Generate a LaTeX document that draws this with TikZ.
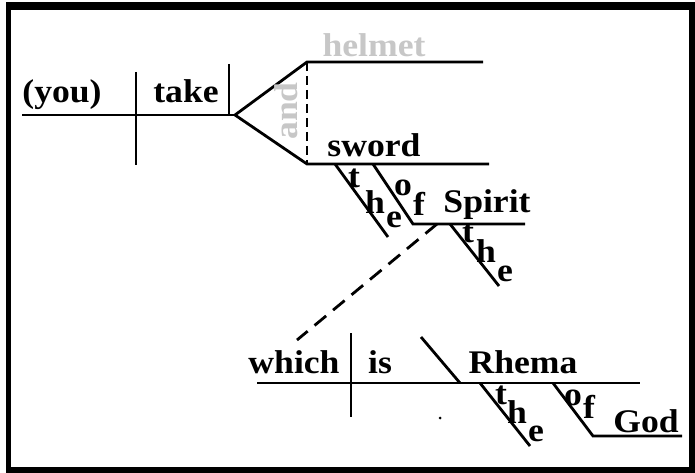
\documentclass[tikz,border=0pt]{standalone}
\usepackage{fontspec}
\setmainfont{Liberation Serif}[FakeStretch=1.08]
\definecolor{lightword}{gray}{0.78}
\begin{document}
\begin{tikzpicture}[x=1pt,y=-1pt,line width=2.8pt,
  word/.style={anchor=base,inner sep=0pt,font=\fontsize{33}{36}\selectfont\bfseries},
  faint/.style={word,text=lightword},
  dashA/.style={dash pattern=on 9pt off 5pt},
  dashB/.style={dash pattern=on 15pt off 9pt}]
\useasboundingbox (0,0) rectangle (695,473);
% frame
\fill[black] (6,2) rectangle (695,473);
\fill[white] (11,10) rectangle (689,467);
% coordinates
\coordinate (base1L) at (22,115);
\coordinate (fork) at (235,115);
\coordinate (sv1t) at (136,72);
\coordinate (sv1b) at (136,165);
\coordinate (vo1t) at (229,64);
\coordinate (vo1b) at (229,115);
\coordinate (helmL) at (307,62);
\coordinate (helmR) at (483,62);
\coordinate (swordL) at (307,164);
\coordinate (swordR) at (489,164);
\coordinate (the1a) at (335,164);
\coordinate (the1b) at (388,237);
\coordinate (of1a) at (373,164);
\coordinate (of1b) at (413,224);
\coordinate (spiritR) at (525,224);
\coordinate (the2a) at (450,224);
\coordinate (the2b) at (499,286);
\coordinate (relA) at (437,224);
\coordinate (relB) at (297,340);
\coordinate (base2L) at (257,383);
\coordinate (base2R) at (640,383);
\coordinate (sv2t) at (351,333);
\coordinate (sv2b) at (351,417);
\coordinate (pnA) at (421,337);
\coordinate (pnB) at (460,383);
\coordinate (the3a) at (480,383);
\coordinate (the3b) at (530,446);
\coordinate (of2a) at (553,383);
\coordinate (of2b) at (593,436);
\coordinate (godR) at (682,436);
% lines
\draw (base1L) -- (fork);
\draw (sv1t) -- (sv1b);
\draw (vo1t) -- (vo1b);
\draw (fork) -- (helmL) -- (helmR);
\draw (fork) -- (swordL) -- (swordR);
\draw[dashA] (helmL) -- (swordL);
\draw (the1a) -- (the1b);
\draw (of1a) -- (of1b) -- (spiritR);
\draw (the2a) -- (the2b);
\draw[dashB] (relA) -- (relB);
\draw (base2L) -- (base2R);
\draw (sv2t) -- (sv2b);
\draw (pnA) -- (pnB);
\draw (the3a) -- (the3b);
\draw (of2a) -- (of2b) -- (godR);
\fill (440,418) circle (1.5pt);
% words
\node[word] (you) at (62,103) {(you)};
\node[word] (take) at (186,103) {take};
\node[faint] (helmet) at (374,57) {helmet};
\node[faint,rotate=90] (and) at (297,111) {and};
\node[word] (sword) at (374,157) {sword};
\node[word] (t1) at (354,187) {t};
\node[word] (h1) at (375,213) {h};
\node[word] (e1) at (394,227) {e};
\node[word] (o1) at (403,195) {o};
\node[word] (f1) at (419,215) {f};
\node[word] (spirit) at (487,212) {Spirit};
\node[word] (t2) at (468,242) {t};
\node[word] (h2) at (486,262) {h};
\node[word] (e2) at (505,281) {e};
\node[word] (which) at (294,373) {which};
\node[word] (is) at (380,373) {is};
\node[word] (rhema) at (523,373) {Rhema};
\node[word] (t3) at (501,404) {t};
\node[word] (h3) at (517,423) {h};
\node[word] (e3) at (536,441) {e};
\node[word] (o2) at (573,405) {o};
\node[word] (f2) at (589,418) {f};
\node[word] (god) at (646,432) {God};
\end{tikzpicture}
\end{document}
